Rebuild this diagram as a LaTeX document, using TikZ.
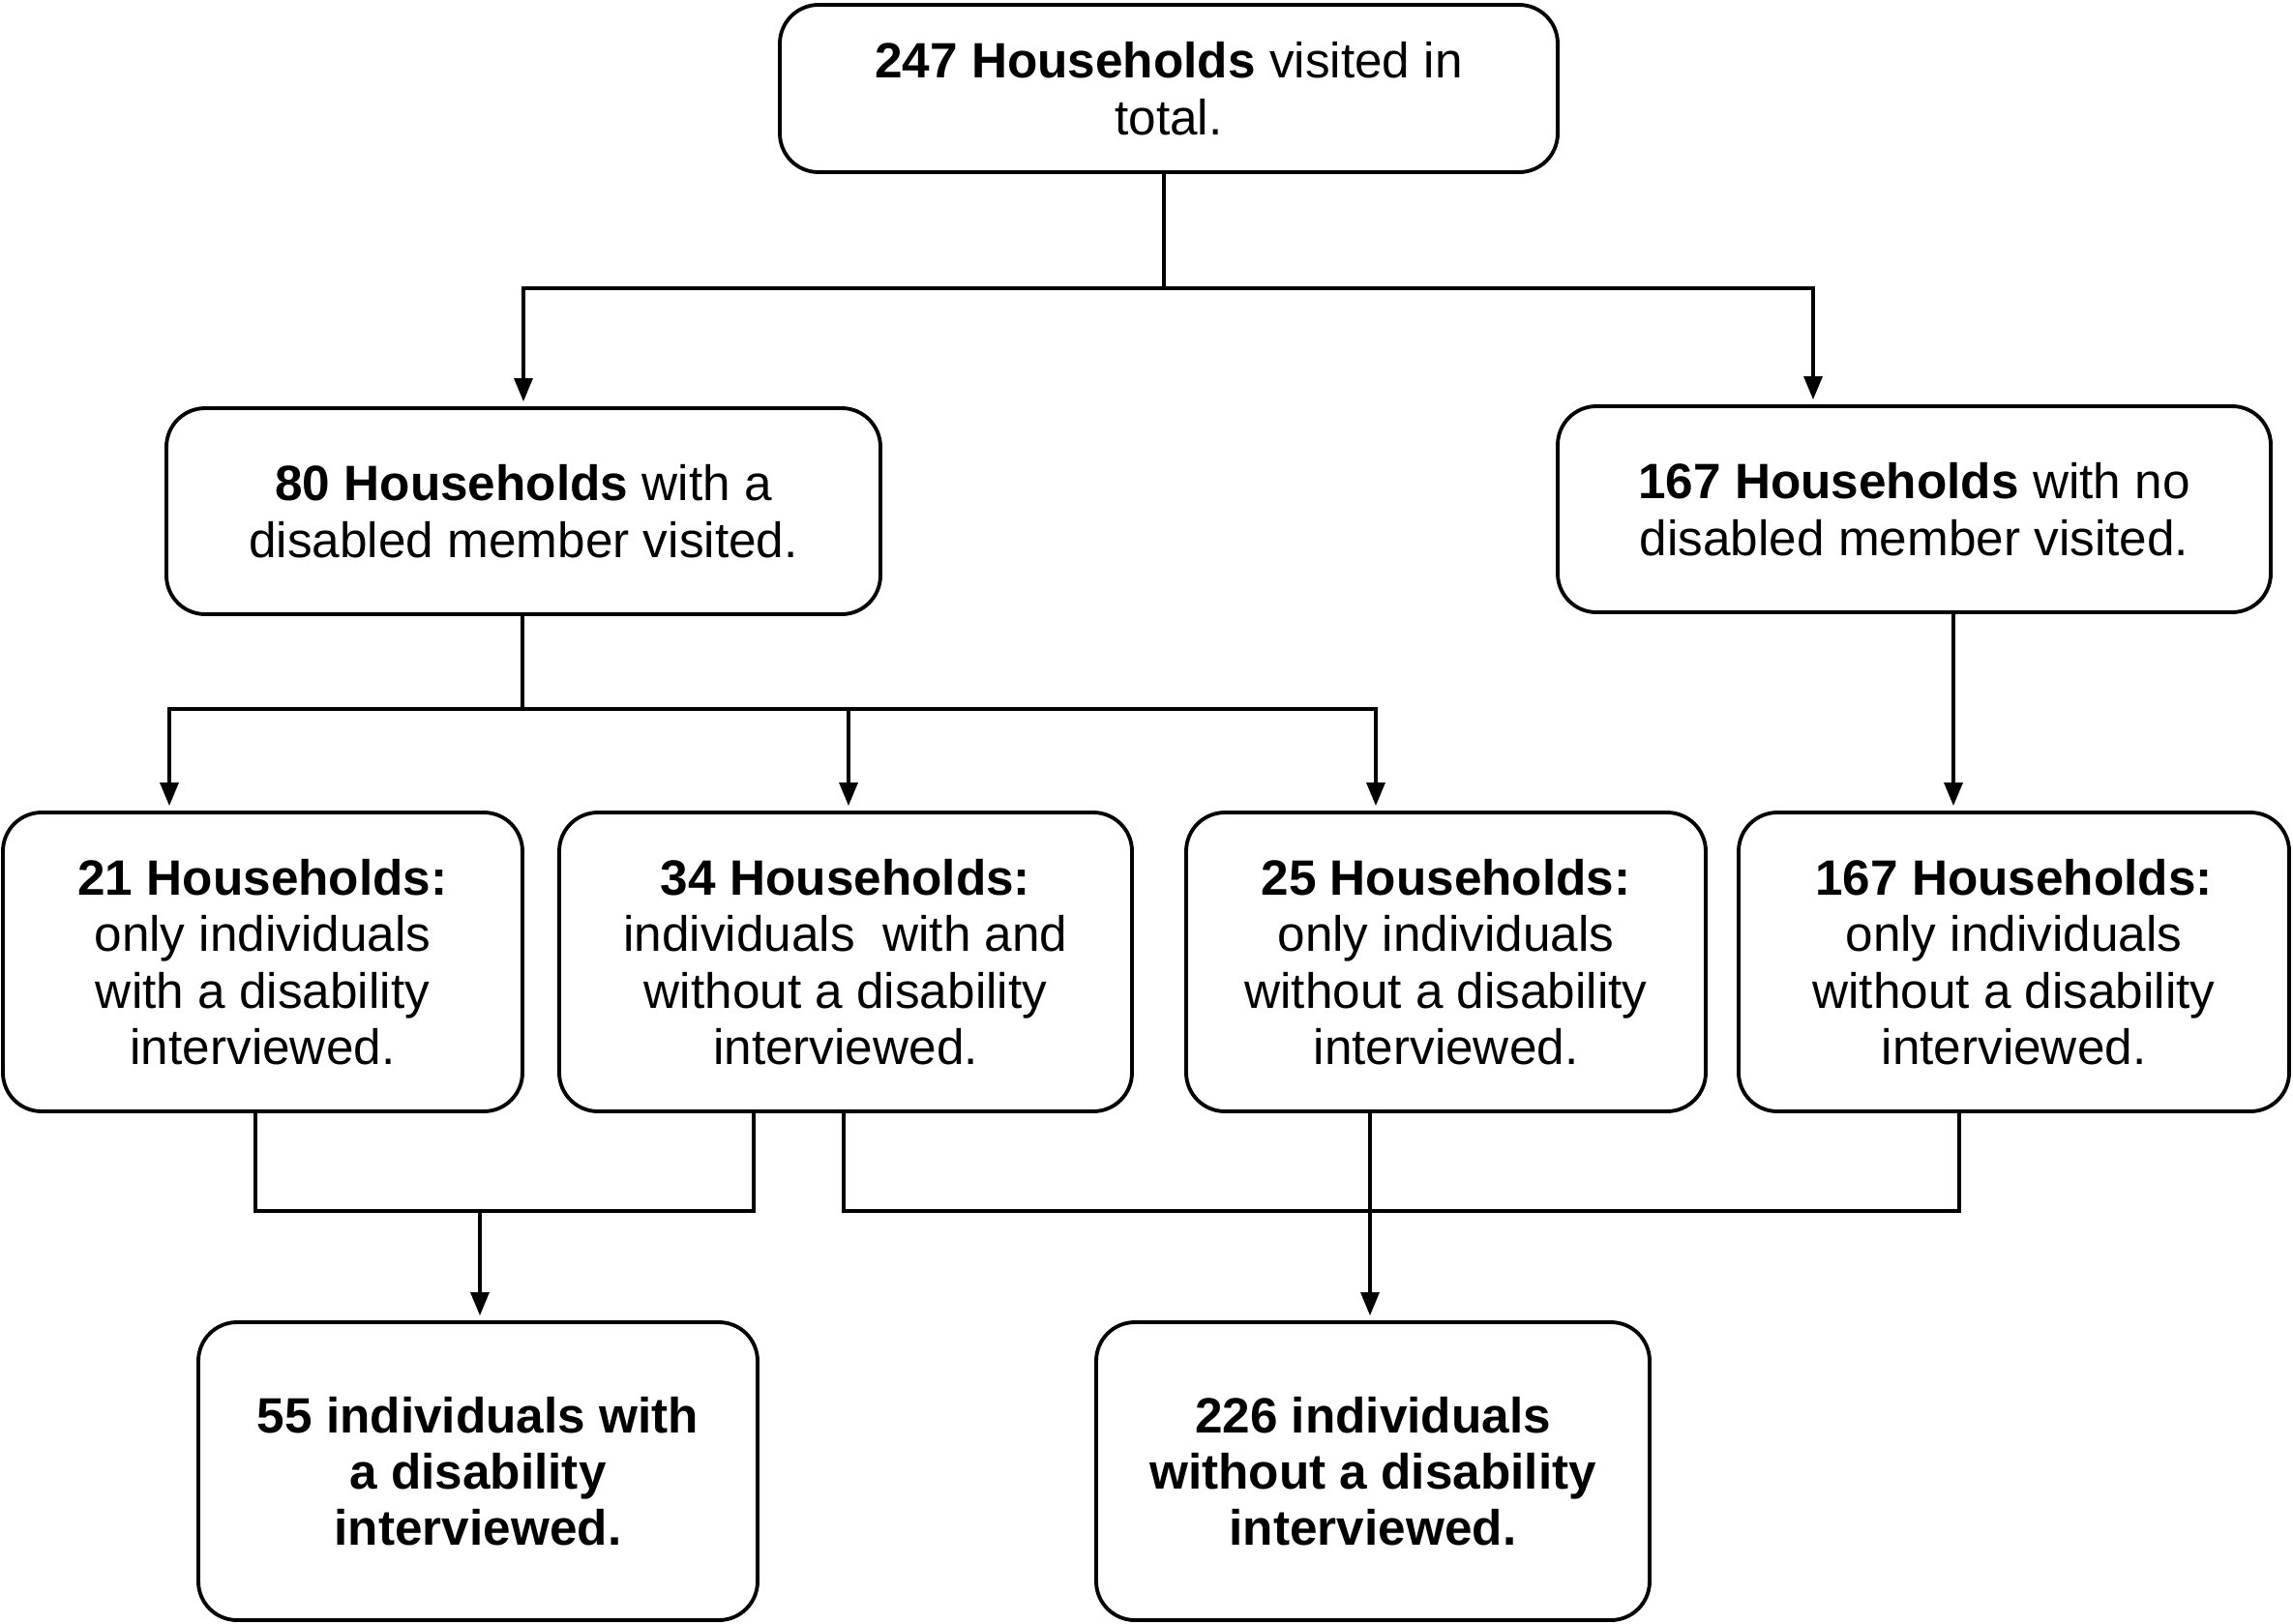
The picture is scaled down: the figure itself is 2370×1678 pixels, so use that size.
\documentclass[tikz,border=0pt]{standalone}
\usepackage{fontspec}
\setmainfont{Liberation Sans}
\usetikzlibrary{arrows.meta}
\begin{document}
\begin{tikzpicture}[x=0.1mm,y=-0.1mm,
  box/.style={draw=black,line width=1.1pt,rounded corners=4mm,fill=white,align=center,inner sep=0pt,
    font=\fontsize{14.6}{16.6}\selectfont},
  conn/.style={draw=black,line width=0.9pt},
  arr/.style={conn,-{Triangle[length=2.4mm,width=1.9mm]},shorten >=0.5mm}]
\useasboundingbox (0,0) rectangle (2370,1678);
% boxes
\node[box,minimum width=80.4mm,minimum height=17.3mm] (top) at (1208,91.5)
  {\textbf{247 Households} visited in\\total.};
\node[box,minimum width=73.8mm,minimum height=21.3mm] (b80) at (541,528.5)
  {\textbf{80 Households} with a\\disabled member visited.};
\node[box,minimum width=73.7mm,minimum height=21.3mm] (b167) at (1978.5,526.5)
  {\textbf{167 Households} with no\\disabled member visited.};
\node[box,minimum width=53.7mm,minimum height=30.9mm] (b21) at (271.5,994.5)
  {\textbf{21 Households:}\\only individuals\\with a disability\\interviewed.};
\node[box,minimum width=59.2mm,minimum height=30.9mm] (b34) at (874,994.5)
  {\textbf{34 Households:}\\individuals\ \ with and\\without a disability\\interviewed.};
\node[box,minimum width=53.7mm,minimum height=30.9mm] (b25) at (1494.5,994.5)
  {\textbf{25 Households:}\\only individuals\\without a disability\\interviewed.};
\node[box,minimum width=56.9mm,minimum height=30.9mm] (b167b) at (2081.5,994.5)
  {\textbf{167 Households:}\\only individuals\\without a disability\\interviewed.};
\node[box,minimum width=57.8mm,minimum height=30.8mm,font=\fontsize{14.6}{16.6}\selectfont\bfseries] (b55) at (494,1521)
  {55 individuals with\\a disability\\interviewed.};
\node[box,minimum width=57.2mm,minimum height=30.8mm,font=\fontsize{14.6}{16.6}\selectfont\bfseries] (b226) at (1419,1521)
  {226 individuals\\without a disability\\interviewed.};
% junction coordinates
\coordinate (j1) at (1203,298);
\coordinate (j2) at (540,733);
\coordinate (j3) at (496,1252);
\coordinate (j4) at (872,1252);
% top split
\draw[conn] (top.south -| j1) -- (j1);
\draw[arr] (j1) -| (b80.north);
\draw[arr] (j1) -| ([xshift=-10.45mm]b167.north);
% 80 split
\draw[conn] (b80.south -| j2) -- (j2);
\draw[arr] (j2) -| ([xshift=-9.65mm]b21.north);
\draw[arr] (j2) -| ([xshift=0.3mm]b34.north);
\draw[arr] (j2) -| ([xshift=-7.25mm]b25.north);
% 167 straight
\coordinate (p167) at ([xshift=4.05mm]b167.south);
\draw[arr] (p167) -- (p167 |- b167b.north);
% merge to 55
\draw[conn] ([xshift=-0.75mm]b21.south) |- (j3) -| ([xshift=-9.5mm]b34.south);
\draw[arr] (j3) -- (j3 |- b55.north);
% merge to 226
\draw[conn] (b34.south -| j4) |- (j4) -| ([xshift=-5.65mm]b167b.south);
\coordinate (p25) at ([xshift=-7.85mm]b25.south);
\draw[arr] (p25) -- (p25 |- b226.north);
\end{tikzpicture}
\end{document}
